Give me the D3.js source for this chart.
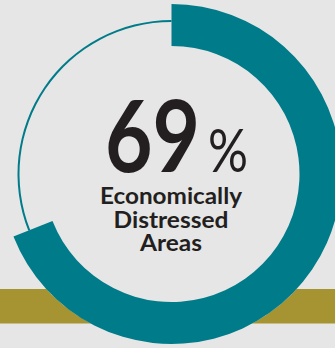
<!DOCTYPE html>
<html>
<head>
<meta charset="utf-8">
<script src="https://cdn.jsdelivr.net/npm/d3@7"></script>
<style>
  html, body { margin: 0; padding: 0; background: #e6e6e6; }
  svg { display: block; }
</style>
</head>
<body>
<svg id="chart" width="335" height="348"></svg>
<script>
const shareValues = [69, 31];
const shareLabels = ["Economically Distressed Areas", "Other"];
const valueText = ["69", "%"];
const labelLines = ["Economically", "Distressed", "Areas"];

const W = 335, H = 348;
const cx = 171.5, cy = 174;
const outerR = 170, innerR = 128, thinR = 153;
const svg = d3.select("#chart");

svg.append("rect").attr("width", W).attr("height", H).attr("fill", "#e6e6e6");
// gold band
svg.append("rect").attr("x", 0).attr("y", 289).attr("width", W).attr("height", 34.5).attr("fill", "#a69433");

const g = svg.append("g").attr("transform", `translate(${cx},${cy})`);
// circle fill covering band
g.append("circle").attr("r", outerR).attr("fill", "#e6e6e6");

const pie = d3.pie().sort(null).value(d => d)(shareValues);

// thick arc
g.append("path")
  .attr("d", d3.arc().innerRadius(innerR).outerRadius(outerR)(pie[0]))
  .attr("fill", "#007b8a");
// thin remainder
g.append("path")
  .attr("d", d3.arc().innerRadius(thinR - 1).outerRadius(thinR + 1)(pie[1]))
  .attr("fill", "#007b8a");

// big number
svg.append("text")
  .attr("x", 105).attr("y", 172)
  .attr("fill", "#231f20")
  .style("font-family", "Lato, 'Open Sans', sans-serif")
  .style("font-size", "100px").style("font-weight", 700)
  .attr("textLength", 95).attr("lengthAdjust", "spacingAndGlyphs")
  .text(valueText[0]);
svg.append("text")
  .attr("x", 208).attr("y", 172)
  .attr("fill", "#231f20")
  .style("font-family", "Lato, 'Open Sans', sans-serif")
  .style("font-size", "60px").style("font-weight", 400)
  .attr("textLength", 40).attr("lengthAdjust", "spacingAndGlyphs")
  .text(valueText[1]);

const lineWidths = [142, 115, 62];
const baselines = [204, 228, 251];
labelLines.forEach((t, i) => {
  svg.append("text")
    .attr("x", 171 - lineWidths[i] / 2)
    .attr("y", baselines[i])
    .attr("textLength", lineWidths[i])
    .attr("lengthAdjust", "spacingAndGlyphs")
    .attr("fill", "#231f20")
    .style("font-family", "Lato, 'Open Sans', sans-serif")
    .style("font-size", "22px")
    .style("font-weight", 700)
    .text(t);
});
</script>
</body>
</html>
